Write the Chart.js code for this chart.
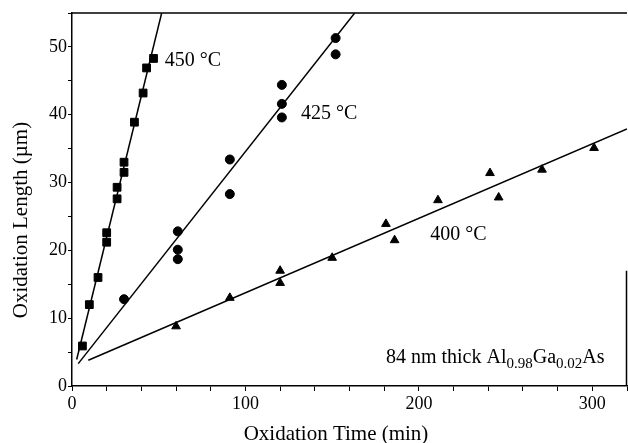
<!DOCTYPE html>
<html>
<head>
<meta charset="utf-8">
<script src="https://cdn.jsdelivr.net/npm/chart.js@4.4.0/dist/chart.umd.min.js"></script>
<style>
  html, body { margin: 0; padding: 0; background: #fff; overflow: hidden; }
  canvas { display: block; }
</style>
</head>
<body>
<canvas id="chart" width="628" height="443"></canvas>
<script>
let time450 = [6, 10, 15, 20, 20, 26, 26, 30, 30, 36, 41, 43, 47];
let len450 = [5.9, 12.0, 16.0, 21.2, 22.6, 27.6, 29.3, 31.5, 33.0, 38.9, 43.2, 46.9, 48.3];

let time425 = [30, 61, 61, 61, 91, 91, 121, 121, 121, 152, 152];
let len425 = [12.8, 22.8, 20.1, 18.7, 33.4, 28.3, 44.4, 41.6, 39.6, 51.3, 48.9];

let time400 = [60, 91, 120, 120, 150, 181, 186, 211, 241, 246, 271, 301];
let len400 = [8.8, 13.0, 17.0, 15.2, 18.9, 23.9, 21.5, 27.4, 31.4, 27.8, 31.9, 35.1];

// fitted lines (end points)
let fitX450 = [2.7, 51.7];
let fitY450 = [3.9, 55];
let fitX425 = [3.6, 163];
let fitY425 = [3.3, 55];
let fitX400 = [9.4, 320];
let fitY400 = [3.8, 37.9];

const serif = "'Liberation Serif', 'Times New Roman', serif";

function pts(xs, ys) {
    return xs.map((x, i) => ({ x: x, y: ys[i] }));
}

// labels inside the plot, axis titles, top / right frame
const textPlugin = {
    id: 'textPlugin',
    afterDraw(chart) {
        const ctx = chart.ctx;
        const xs = chart.scales.x;
        const ys = chart.scales.y;
        const area = chart.chartArea;
        ctx.save();
        ctx.strokeStyle = '#000';
        ctx.lineWidth = 1.5;
        ctx.beginPath();
        ctx.moveTo(area.left, area.top);
        ctx.lineTo(area.right, area.top);
        ctx.moveTo(area.right - 0.5, ys.getPixelForValue(17));
        ctx.lineTo(area.right - 0.5, area.bottom);
        ctx.stroke();

        ctx.fillStyle = '#000';
        ctx.textBaseline = 'middle';
        ctx.font = '20px ' + serif;
        ctx.fillText('450 °C', xs.getPixelForValue(53.5), ys.getPixelForValue(48));
        ctx.fillText('425 °C', xs.getPixelForValue(132), ys.getPixelForValue(40.2));
        ctx.fillText('400 °C', xs.getPixelForValue(206.5), ys.getPixelForValue(22.3));

        // 84 nm thick Al0.98Ga0.02As
        let x = xs.getPixelForValue(181);
        const y = ys.getPixelForValue(4.1);
        const parts = [['84 nm thick Al', false], ['0.98', true], ['Ga', false], ['0.02', true], ['As', false]];
        parts.forEach(p => {
            ctx.font = (p[1] ? '15px ' : '20px ') + serif;
            ctx.fillText(p[0], x, p[1] ? y + 6 : y);
            x += ctx.measureText(p[0]).width;
        });

        // axis titles
        ctx.font = '21px ' + serif;
        ctx.textAlign = 'center';
        ctx.fillText('Oxidation Time (min)', 336, 434);
        ctx.translate(21, 220);
        ctx.rotate(-Math.PI / 2);
        ctx.fillText('Oxidation Length (µm)', 0, 0);
        ctx.restore();
    }
};

new Chart(document.getElementById('chart'), {
    type: 'scatter',
    data: {
        datasets: [
            {
                label: '450 °C',
                data: pts(time450, len450),
                pointStyle: 'rect',
                pointRadius: 5.5,
                backgroundColor: '#000',
                borderColor: '#000'
            },
            {
                label: '425 °C',
                data: pts(time425, len425),
                pointStyle: 'circle',
                pointRadius: 4.5,
                backgroundColor: '#000',
                borderColor: '#000'
            },
            {
                label: '400 °C',
                data: pts(time400, len400),
                pointStyle: 'triangle',
                pointRadius: 5,
                backgroundColor: '#000',
                borderColor: '#000'
            },
            {
                data: pts(fitX450, fitY450),
                showLine: true,
                pointRadius: 0,
                borderColor: '#000',
                borderWidth: 1.5
            },
            {
                data: pts(fitX425, fitY425),
                showLine: true,
                pointRadius: 0,
                borderColor: '#000',
                borderWidth: 1.5
            },
            {
                data: pts(fitX400, fitY400),
                showLine: true,
                pointRadius: 0,
                borderColor: '#000',
                borderWidth: 1.5
            }
        ]
    },
    options: {
        responsive: false,
        animation: false,
        devicePixelRatio: 1,
        layout: { autoPadding: false, padding: { top: 13, right: 1, left: 0, bottom: 0 } },
        plugins: {
            legend: { display: false },
            tooltip: { enabled: false }
        },
        scales: {
            x: {
                min: 0,
                max: 320,
                afterFit: s => { s.height = 57; s.paddingRight = 0; s.paddingLeft = 0; },
                ticks: {
                    stepSize: 20,
                    autoSkip: false,
                    maxRotation: 0,
                    color: '#000',
                    font: { family: serif, size: 18 },
                    padding: 2,
                    callback: v => (v % 100 === 0 ? v : '')
                },
                grid: { drawOnChartArea: false, tickLength: 5, color: '#000', lineWidth: 1 },
                border: { color: '#000', width: 1.5 }
            },
            y: {
                min: 0,
                max: 55,
                afterFit: s => { s.width = 72; },
                ticks: {
                    stepSize: 5,
                    autoSkip: false,
                    color: '#000',
                    font: { family: serif, size: 18 },
                    padding: 1,
                    callback: v => (v % 10 === 0 ? v : '')
                },
                grid: { drawOnChartArea: false, tickLength: 4, color: '#000', lineWidth: 1 },
                border: { color: '#000', width: 1.5 }
            }
        }
    },
    plugins: [textPlugin]
});
</script>
</body>
</html>
